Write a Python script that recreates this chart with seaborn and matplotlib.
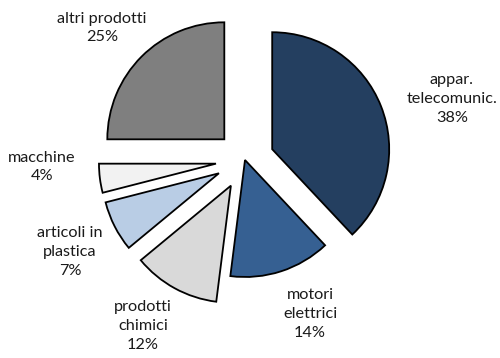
import matplotlib
matplotlib.use("Agg")
import matplotlib.pyplot as plt
import seaborn as sns
import numpy as np

sns.set_theme(style="white")
plt.rcParams['font.family'] = ['Lato', 'DejaVu Sans']

categories = ["appar.\ntelecomunic.", "motori\nelettrici", "prodotti\nchimici",
              "articoli in\nplastica", "macchine", "altri prodotti"]
values = [38, 14, 12, 7, 4, 25]
colors = ["#243F60", "#366092", "#D9D9D9", "#B9CDE5", "#F2F2F2", "#7F7F7F"]
explode = [0.25, 0.0, 0.25, 0.25, 0.25, 0.25]

# label centres in pixel coordinates of the 500x358 figure (from top-left)
label_px = [(452, 99), (310, 314), (143, 326), (70, 252), (42, 167), (102, 28)]

W, H = 500, 358
R = 117.0          # pie radius in pixels
CX, CY = 245, 160  # pie centre in pixels

fig = plt.figure(figsize=(W / 100, H / 100), dpi=100)
ax = fig.add_axes([0, 0, 1, 1])
ax.pie(values, colors=colors, explode=explode, startangle=90, counterclock=False,
       radius=1.0, wedgeprops=dict(edgecolor="black", linewidth=1.3))
ax.set_xlim(-CX / R, (W - CX) / R)
ax.set_ylim(-(H - CY) / R, CY / R)
ax.set_aspect('auto')
ax.axis('off')

for cat, val, (px, py) in zip(categories, values, label_px):
    ax.text(px / W, 1 - py / H, f"{cat}\n{val}%", transform=ax.transAxes,
            ha='center', va='center', fontsize=11.7, color="#1a1a1a",
            linespacing=1.42)

fig.savefig("out.png", dpi=100)
